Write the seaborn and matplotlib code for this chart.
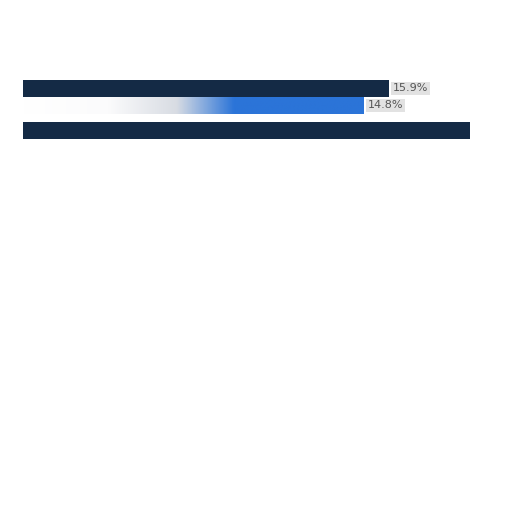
import numpy as np
import pandas as pd
import matplotlib
matplotlib.use("Agg")
import matplotlib.pyplot as plt
import seaborn as sns
from matplotlib.colors import LinearSegmentedColormap

categories = ["A", "A", "B"]
series = ["s1", "s2", "s1"]
values = [15.9, 14.8, 19.4]
labels = ["15.9%", "14.8%", ""]

df = pd.DataFrame({"cat": categories, "series": series, "value": values})

sns.set_style("white")
fig = plt.figure(figsize=(5.12, 5.12), dpi=100)
ax = fig.add_axes([23 / 512, 0, 460 / 512, 1])

ax = sns.barplot(
    data=df, y="cat", x="value", hue="series", orient="h",
    palette={"s1": "#142a45", "s2": "#2b74d8"}, saturation=1,
    width=0.8, linewidth=0, legend=False, ax=ax,
)

xlim = (0, 460 / 23.04)
ylim = ((512 - 97) / 42.5, -97 / 42.5)
ax.set_xlim(*xlim)
ax.set_ylim(*ylim)
ax.axis("off")

# second bar fades from white into blue
cmap = LinearSegmentedColormap.from_list(
    "fade", [(0, "#ffffff"), (0.25, "#fbfbfc"), (0.45, "#d8dce3"), (0.62, "#2b74d8"), (1, "#2b74d8")]
)
for patch in ax.patches:
    if patch.get_facecolor()[2] > 0.6 and patch.get_width() > 0:
        x0, y0 = patch.get_x(), patch.get_y()
        w, h = patch.get_width(), patch.get_height()
        grad = np.linspace(0, 1, 256).reshape(1, -1)
        im = ax.imshow(grad, cmap=cmap, aspect="auto",
                       extent=(x0, x0 + w, y0 + h, y0), zorder=patch.get_zorder() + 0.1)
        im.set_clip_path(patch)
ax.set_xlim(*xlim)
ax.set_ylim(*ylim)

bars = [p for p in ax.patches if p.get_width() > 0]
bars.sort(key=lambda p: p.get_y())
for p, lab in zip(bars, labels):
    if lab:
        ax.text(p.get_width() + 0.15, p.get_y() + p.get_height() / 2, lab,
                va="center", ha="left", fontsize=8, color="#555555",
                bbox=dict(boxstyle="square,pad=0.15", fc="#e2e2e2", ec="none"))

fig.savefig("out.png", dpi=100)
